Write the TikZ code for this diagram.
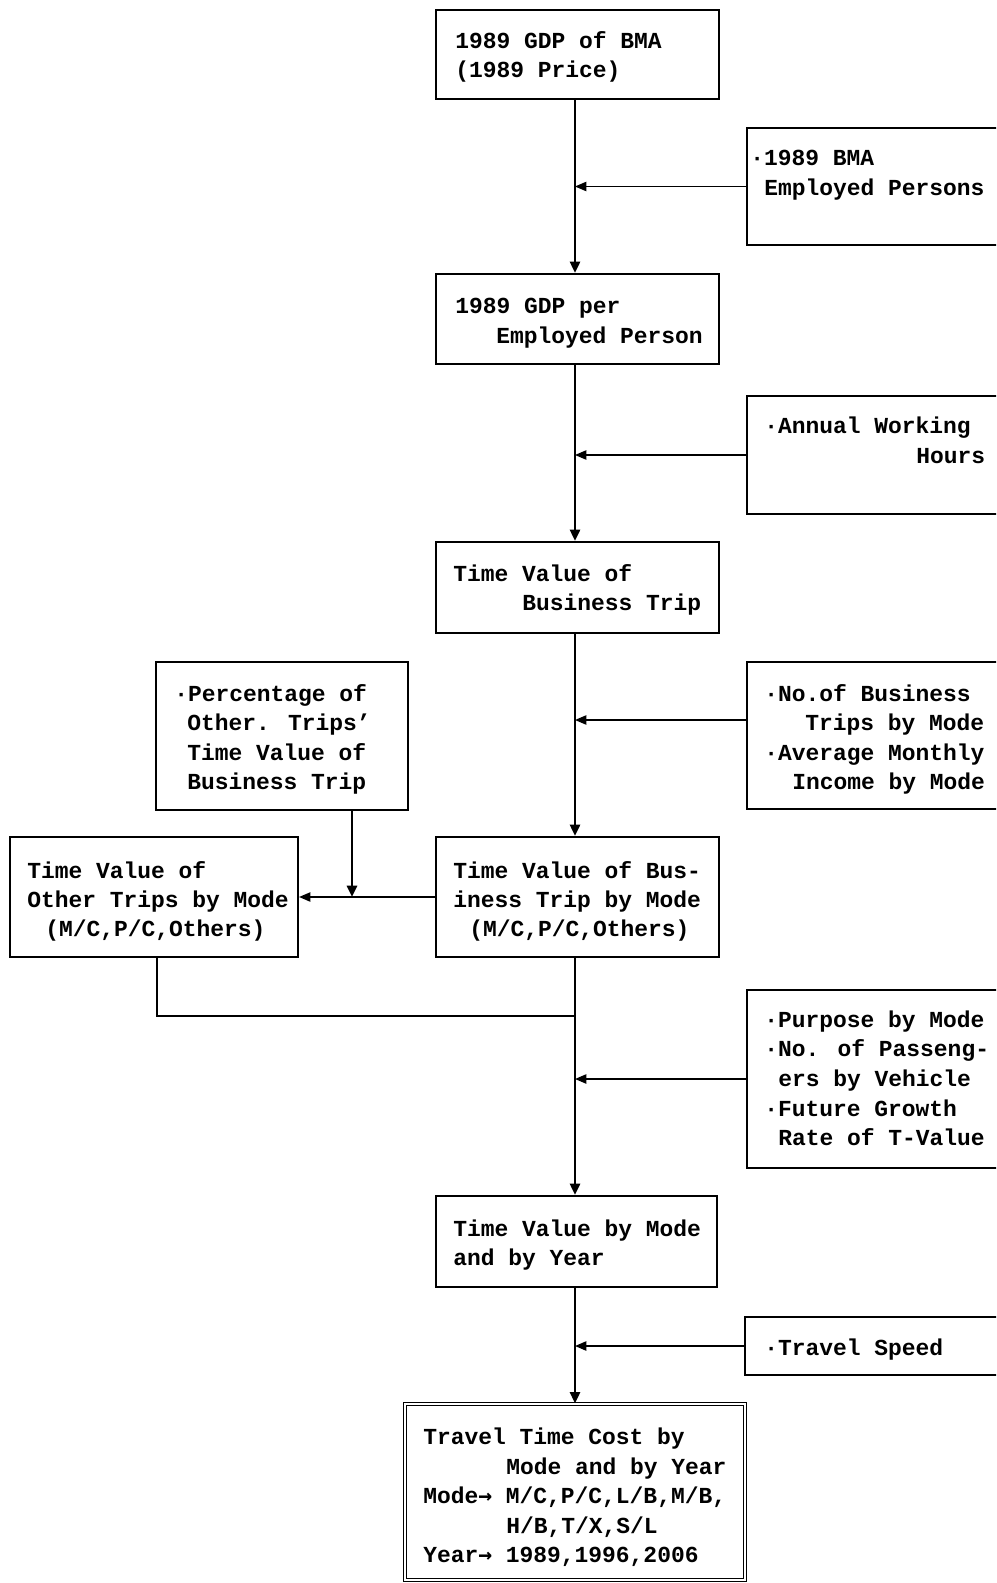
\documentclass[tikz,border=0pt]{standalone}
\usepackage{fontspec}
\usetikzlibrary{arrows.meta,fit}
\newfontfamily\dfont{Liberation Mono}
\newfontfamily\arfont{DejaVu Sans Mono}
\newcommand{\rarr}{{\arfont\bfseries →}}
\begin{document}
\begin{tikzpicture}[x=0.75pt,y=-0.75pt,
  box/.style={draw,line width=1.6pt,inner sep=0pt},
  dbox/.style={draw,double,double distance=1.8pt,line width=0.9pt,inner sep=0pt},
  txt/.style={anchor=base west,inner sep=0pt,font={\dfont\bfseries\fontsize{17.2pt}{22pt}\selectfont}},
  main/.style={line width=2pt,-{Triangle[length=8.5pt,width=7.5pt]}},
  feed/.style={line width=1pt,-{Triangle[length=8.5pt,width=7pt]}},
  plain/.style={line width=1pt}]
\useasboundingbox (0,0) rectangle (996,1583);
\clip (0,0) rectangle (996,1583);

% central column
\node[box,fit={(436,10) (719,99)}] (b1) {};
\node[box,fit={(436,274) (719,364)}] (b2) {};
\node[box,fit={(436,542) (719,633)}] (b3) {};
\node[box,fit={(436,837) (719,957)}] (b4) {};
\node[box,fit={(436,1196) (717,1287)}] (b5) {};
\node[dbox,fit={(405,1404) (745,1580)}] (b6) {};

% right input boxes (running off the page edge)
\node[box,fit={(747,128) (1010,245)}] (r1) {};
\node[box,fit={(747,396) (1010,514)}] (r2) {};
\node[box,fit={(747,662) (1010,809)}] (r3) {};
\node[box,fit={(747,990) (1010,1168)}] (r4) {};
\node[box,fit={(745,1317) (1010,1375)}] (r5) {};

% left boxes
\node[box,fit={(156,662) (408,810)}] (lt) {};
\node[box,fit={(10,837) (298,957)}] (lb) {};

% texts
\node[txt] (t1a) at (455,49) {1989 GDP of BMA};
\node[txt] (t1b) at (455,78) {(1989 Price)};

\node[txt] (r1a) at (750,166) {·1989 BMA};
\node[txt] (r1b) at (764,196) {Employed Persons};

\node[txt] (t2a) at (455,314) {1989 GDP per};
\node[txt] (t2b) at (496,344) {Employed Person};

\node[txt] (r2a) at (764,433) {·Annual Working};
\node[txt] (r2b) at (916,463) {Hours};

\node[txt] (t3a) at (453,581) {Time Value of};
\node[txt] (t3b) at (522,610) {Business Trip};

\node[txt] (r3a) at (764,701) {·No.of Business};
\node[txt] (r3b) at (805,730) {Trips by Mode};
\node[txt] (r3c) at (764,760) {·Average Monthly};
\node[txt] (r3d) at (792,789) {Income by Mode};

\node[txt] (lta) at (174,701) {·Percentage of};
\node[txt] (ltb) at (187,730) {Other. Trips’};
\node[txt] (ltc) at (187,760) {Time  Value of};
\node[txt] (ltd) at (187,789) {Business Trip};

\node[txt] (t4a) at (453,878) {Time Value of Bus-};
\node[txt] (t4b) at (453,907) {iness Trip by Mode};
\node[txt] (t4c) at (469,936) {(M/C,P/C,Others)};

\node[txt] (lba) at (27,878) {Time Value of};
\node[txt] (lbb) at (27,907) {Other Trips by Mode};
\node[txt] (lbc) at (45,936) {(M/C,P/C,Others)};

\node[txt] (r4a) at (764,1027) {·Purpose by Mode};
\node[txt] (r4b) at (764,1056) {·No. of Passeng-};
\node[txt] (r4c) at (778,1086) {ers by Vehicle};
\node[txt] (r4d) at (764,1116) {·Future Growth};
\node[txt] (r4e) at (778,1145) {Rate of T-Value};

\node[txt] (t5a) at (453,1236) {Time Value by Mode};
\node[txt] (t5b) at (453,1265) {and by Year};

\node[txt] (r5a) at (764,1355) {·Travel Speed};

\node[txt] (t6a) at (423,1444) {Travel Time Cost by};
\node[txt] (t6b) at (506,1474) {Mode and by Year};
\node[txt] (t6c) at (423,1503) {Mode\rarr{} M/C,P/C,L/B,M/B,};
\node[txt] (t6d) at (506,1533) {H/B,T/X,S/L};
\node[txt] (t6e) at (423,1562) {Year\rarr{} 1989,1996,2006};

% connectors
\coordinate (c) at (575,0);
\coordinate (a3) at (575,720);
\coordinate (ltx) at (352,810);
\coordinate (lbx) at (157,957);
\coordinate (j) at (575,1016);

\draw[main] (c |- b1.south) -- (c |- b2.north);
\draw[main] (c |- b2.south) -- (c |- b3.north);
\draw[main] (c |- b3.south) -- (c |- b4.north);
\draw[main] (c |- b4.south) -- (c |- b5.north);
\draw[main] (c |- b5.south) -- (c |- b6.north);

\draw[feed] (r1.west) -- (c |- r1.west);
\draw[feed] (r2.west) -- (c |- r2.west);
\draw[feed] (r3.west |- a3) -- (a3);
\draw[feed] (r4.west) -- (c |- r4.west);
\draw[feed] (r5.west) -- (c |- r5.west);

\draw[feed] (b4.west) -- (lb.east);
\draw[main] (ltx) -- (ltx |- lb.east);
\draw[plain] (lbx) |- (j);
\end{tikzpicture}
\end{document}
